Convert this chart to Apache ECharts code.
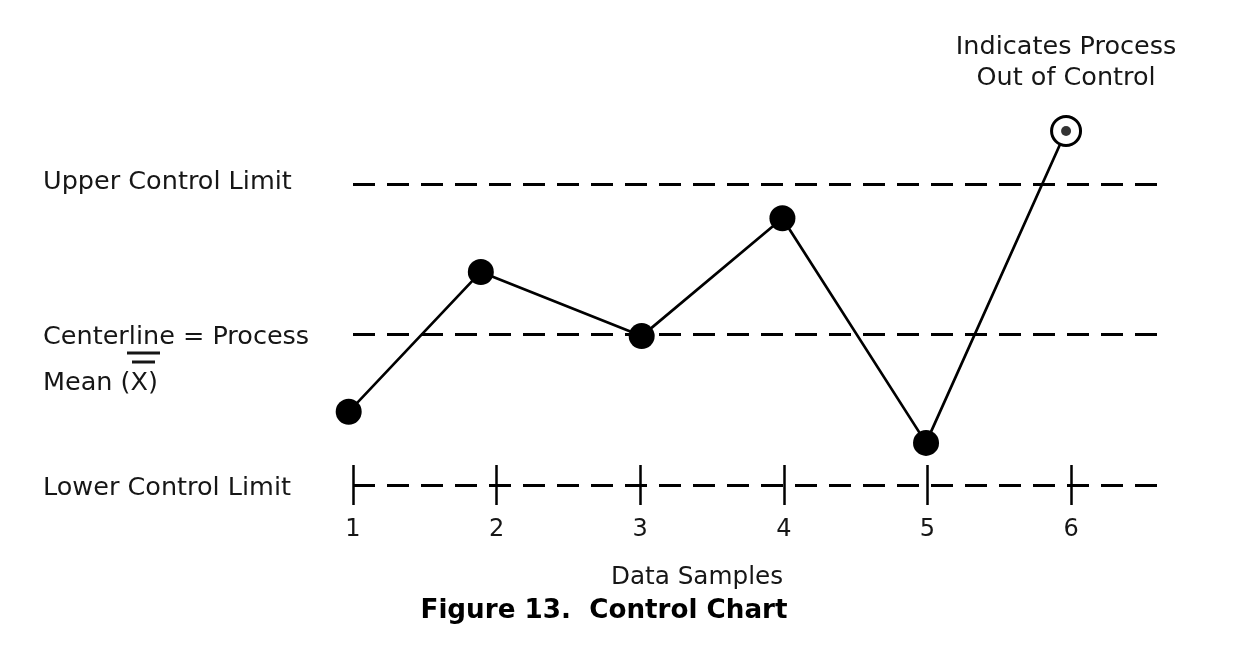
<!DOCTYPE html>
<html>
<head>
<meta charset="utf-8">
<script src="https://cdn.jsdelivr.net/npm/echarts@6/dist/echarts.min.js"></script>
<style>
  html, body { margin: 0; padding: 0; background: #fff; }
  #chart { width: 1245px; height: 645px; }
</style>
</head>
<body>
<div id="chart"></div>
<script>
// sample positions along the x axis, and measured values (sigma units, centerline = 0)
const samplePos = [0.97, 1.89, 3.01, 3.99, 4.99, 5.965];
const sampleValues = [-1.54, 1.25, -0.03, 2.32, -2.16, 4.06];
const sampleTicks = [1, 2, 3, 4, 5, 6];

// control limits
const limitValues = [3, 0, -3];
const limitNames = ['Upper Control Limit', 'Centerline = Process', 'Lower Control Limit'];

const FONT = 'DejaVu Sans';
const TXT = '#161616';

const chart = echarts.init(document.getElementById('chart'));

const points = samplePos.map((x, i) => {
  const last = i === samplePos.length - 1;
  if (!last) return [x, sampleValues[i]];
  // out of control point: open circle with dot
  return {
    value: [x, sampleValues[i]],
    symbolSize: 29,
    itemStyle: {color: '#fff', borderColor: '#000', borderWidth: 3},
    label: {
      show: true,
      position: 'top',
      distance: 21,
      formatter: 'Indicates Process\nOut of Control',
      fontFamily: FONT,
      fontSize: 25.5,
      lineHeight: 31,
      color: TXT
    }
  };
});

const lastIdx = samplePos.length - 1;

const option = {
  animation: false,
  grid: {left: 353, right: 82, top: 109, bottom: 160},
  xAxis: {
    type: 'value',
    min: 1,
    max: 6.64,
    offset: -20,
    splitLine: {show: false},
    axisLine: {show: false, onZero: false},
    axisTick: {
      show: true,
      customValues: sampleTicks,
      length: 40,
      lineStyle: {color: '#000', width: 2.5}
    },
    axisLabel: {
      customValues: sampleTicks,
      margin: 53,
      fontFamily: FONT,
      fontSize: 24,
      color: TXT
    }
  },
  yAxis: {
    type: 'value',
    min: -3,
    max: 4.5,
    splitLine: {show: false},
    axisLine: {show: false},
    axisTick: {show: false},
    axisLabel: {
      customValues: limitValues,
      align: 'left',
      margin: 310,
      fontFamily: FONT,
      fontSize: 25.5,
      color: TXT,
      formatter: function (v) {
        const i = limitValues.indexOf(v);
        if (i === 0) return '{up|' + limitNames[0] + '}';
        if (i === 1) return '{c|}\n{c|' + limitNames[1] + '}\n{c|Mean (X)}';
        if (i === 2) return '{lo|' + limitNames[2] + '}';
        return '';
      },
      rich: {
        up: {fontFamily: FONT, fontSize: 25.5, color: TXT, padding: [0, 0, 4, 0]},
        c: {fontFamily: FONT, fontSize: 25.5, color: TXT, lineHeight: 46, padding: [6, 0, 0, 0]},
        lo: {fontFamily: FONT, fontSize: 25.5, color: TXT, padding: [6, 0, 0, 0]}
      }
    }
  },
  series: [
    {
      type: 'line',
      clip: false,
      data: points,
      symbol: 'circle',
      symbolSize: 26,
      showAllSymbol: true,
      itemStyle: {color: '#000'},
      lineStyle: {color: '#000', width: 2.7},
      z: 3,
      markLine: {
        silent: true,
        symbol: 'none',
        label: {show: false},
        lineStyle: {color: '#000', width: 3, type: [22, 12]},
        data: limitValues.map(v => ({yAxis: v}))
      }
    },
    {
      type: 'scatter',
      clip: false,
      data: [[samplePos[lastIdx], sampleValues[lastIdx]]],
      symbolSize: 10,
      itemStyle: {color: '#000'},
      z: 4
    }
  ],
  graphic: [
    // double overline for X-bar
    {type: 'line', shape: {x1: 127, y1: 353, x2: 160, y2: 353}, style: {stroke: TXT, lineWidth: 3}},
    {type: 'line', shape: {x1: 132, y1: 362, x2: 155, y2: 362}, style: {stroke: TXT, lineWidth: 3}},
    {
      type: 'text', x: 697, y: 578,
      style: {text: 'Data Samples', font: '24.7px "DejaVu Sans"', fill: TXT, align: 'center', verticalAlign: 'middle'}
    },
    {
      type: 'text', x: 604, y: 611,
      style: {text: 'Figure 13.  Control Chart', font: 'bold 26.2px "DejaVu Sans"', fill: '#000', align: 'center', verticalAlign: 'middle'}
    }
  ]
};

chart.setOption(option);
</script>
</body>
</html>
